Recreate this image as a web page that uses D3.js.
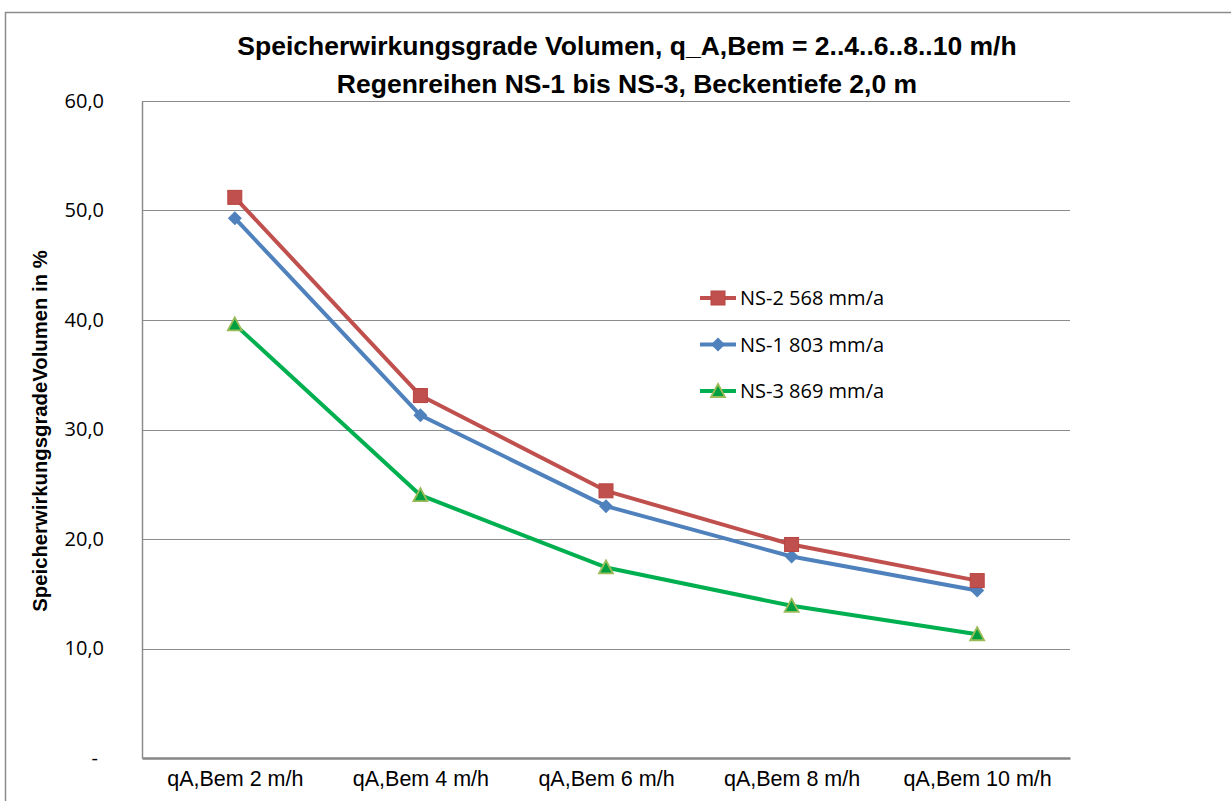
<!DOCTYPE html>
<html><head><meta charset="utf-8">
<script src="https://cdn.jsdelivr.net/npm/d3@7"></script>
<style>
html,body{margin:0;padding:0;background:#fff;}
svg{display:block;}
</style></head>
<body>
<script>
const categories = ["qA,Bem 2 m/h","qA,Bem 4 m/h","qA,Bem 6 m/h","qA,Bem 8 m/h","qA,Bem 10 m/h"];
const ns2 = [51.2, 33.1, 24.4, 19.5, 16.2];
const ns1 = [49.3, 31.3, 23.0, 18.4, 15.3];
const ns3 = [39.6, 24.0, 17.4, 13.9, 11.3];
const seriesNames = ["NS-2 568 mm/a","NS-1 803 mm/a","NS-3 869 mm/a"];
const yTicks = [0,10,20,30,40,50,60];
const titleLines = ["Speicherwirkungsgrade Volumen, q_A,Bem = 2..4..6..8..10 m/h","Regenreihen NS-1 bis NS-3, Beckentiefe 2,0 m"];
const yTitle = "SpeicherwirkungsgradeVolumen  in %";

const W=1231,H=801;
const font = "'Liberation Sans Narrow','Arial Narrow','Liberation Sans',sans-serif";
const font2 = "'Open Sans','Noto Sans',sans-serif";
const svg = d3.select("body").append("svg").attr("width",W).attr("height",H);

// outer chart border
svg.append("path").attr("d","M5.5,"+H+" V12.5 H"+W).attr("fill","none").attr("stroke","#8c8c8c").attr("stroke-width",1.5);

const pl=142, pr=1070, pt=101, pb=758;
const x = d3.scalePoint().domain(categories).range([pl,pr]).padding(0.5);
const y = d3.scaleLinear().domain([0,60]).range([pb,pt]);

// gridlines
svg.append("g").selectAll("line").data(yTicks.filter(d=>d>0)).join("line")
  .attr("x1",pl).attr("x2",pr).attr("y1",d=>Math.round(y(d))+0.5).attr("y2",d=>Math.round(y(d))+0.5)
  .attr("stroke","#8c8c8c").attr("stroke-width",1.2);

// y axis
const yAxis = d3.axisLeft(y).tickValues(yTicks).tickSize(0).tickPadding(38)
  .tickFormat(d=> d===0 ? "-" : d3.format(".1f")(d).replace(".",","));
const gy = svg.append("g").attr("transform",`translate(${pl},0)`).call(yAxis);
gy.select(".domain").attr("stroke","#8c8c8c").attr("stroke-width",1.5);
gy.selectAll("text").attr("font-family",font2).attr("font-size",20).attr("fill","#000");
gy.selectAll(".tick text").filter(d=>d===0).attr("dx",-6);

// x axis
const xAxis = d3.axisBottom(x).tickSize(0).tickPadding(13);
const gx = svg.append("g").attr("transform",`translate(0,${pb})`).call(xAxis);
gx.select(".domain").attr("stroke","#868686").attr("stroke-width",2.5);
gx.selectAll("text").attr("font-family",font).attr("font-size",21.5).attr("fill","#000");

// series
const series = [
  {name:seriesNames[0], values:ns2, color:"#C0504D", marker:"square"},
  {name:seriesNames[1], values:ns1, color:"#4F81BD", marker:"diamond"},
  {name:seriesNames[2], values:ns3, color:"#00B050", marker:"triangle"}
];
const line = d3.line().x((d,i)=>x(categories[i])).y(d=>y(d));
function drawMarker(g, type, color, cx, cy){
  if(type==="square"){
    g.append("rect").attr("x",cx-7).attr("y",cy-7).attr("width",14).attr("height",14).attr("fill",color).attr("stroke","#B84440").attr("stroke-width",1);
  } else if(type==="diamond"){
    g.append("path").attr("d",`M${cx},${cy-7}L${cx+7},${cy}L${cx},${cy+7}L${cx-7},${cy}Z`).attr("fill",color);
  } else {
    g.append("path").attr("d",`M${cx},${cy-7}L${cx+7},${cy+6}L${cx-7},${cy+6}Z`).attr("fill","#00A040").attr("stroke","#9BBB59").attr("stroke-width",1.8);
  }
}
// draw order: NS-3, NS-1, NS-2 on top
[series[2],series[1],series[0]].forEach(s=>{
  const g = svg.append("g");
  g.append("path").datum(s.values).attr("d",line).attr("fill","none").attr("stroke",s.color).attr("stroke-width",4).attr("stroke-linejoin","round");
  s.values.forEach((v,i)=>drawMarker(g,s.marker,s.color,x(categories[i]),y(v)));
});

// legend
const lg = svg.append("g");
series.forEach((s,i)=>{
  const ly = 298 + i*46.5;
  lg.append("line").attr("x1",700).attr("x2",736).attr("y1",ly).attr("y2",ly).attr("stroke",s.color).attr("stroke-width",4);
  drawMarker(lg,s.marker,s.color,718,ly);
  lg.append("text").attr("x",740).attr("y",ly).attr("dy","0.36em").attr("font-family",font2).attr("font-size",20).attr("fill","#000").text(s.name);
});

// title
svg.append("g").selectAll("text").data(titleLines).join("text")
  .attr("x",627).attr("y",(d,i)=>55+i*38).attr("text-anchor","middle")
  .attr("font-family",font).attr("font-weight","bold").attr("font-size",26.5).attr("fill","#000").text(d=>d);

// y title
svg.append("text").attr("transform","translate(47,431) rotate(-90)").attr("text-anchor","middle")
  .attr("font-family",font).attr("font-weight","bold").attr("font-size",20.3).attr("fill","#000").text(yTitle);
</script>
</body></html>
